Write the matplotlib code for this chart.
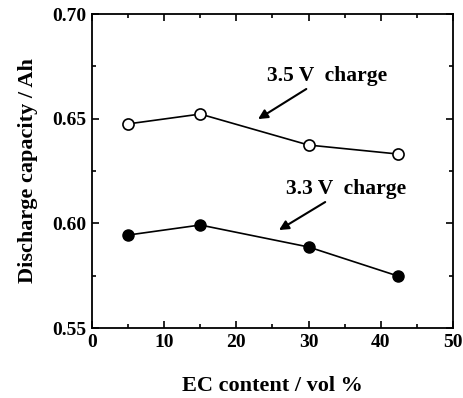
import matplotlib
matplotlib.use("Agg")
from matplotlib import pyplot as plt
from matplotlib.ticker import MultipleLocator

plt.rcParams['font.family'] = ['Liberation Serif', 'DejaVu Serif']
plt.rcParams['font.weight'] = 'bold'

ec = [5, 15, 30, 42.4]
cap_35 = [0.6475, 0.6522, 0.6374, 0.6331]
cap_33 = [0.5944, 0.5992, 0.5887, 0.5748]

fig = plt.figure(figsize=(4.64, 3.98), dpi=100)
ax = fig.add_axes([92 / 464, 70 / 398, 361 / 464, 314 / 398])

ax.plot(ec, cap_35, '-o', color='black', lw=1.2, ms=8, mfc='white', mec='black', mew=1.2)
ax.plot(ec, cap_33, '-o', color='black', lw=1.2, ms=8, mfc='black', mec='black')

ax.annotate("3.5 V  charge", xy=(23.0, 0.6498), xytext=(24.2, 0.6655),
            fontsize=15.5, fontweight='bold', ha='left', va='bottom',
            arrowprops=dict(arrowstyle='-|>', color='black', lw=1.5,
                            shrinkA=0, shrinkB=0, mutation_scale=14))
ax.annotate("3.3 V  charge", xy=(25.9, 0.5968), xytext=(26.9, 0.6115),
            fontsize=15.5, fontweight='bold', ha='left', va='bottom',
            arrowprops=dict(arrowstyle='-|>', color='black', lw=1.5,
                            shrinkA=0, shrinkB=0, mutation_scale=14))

ax.set_xlim(0, 50)
ax.set_ylim(0.55, 0.70)
ax.xaxis.set_major_locator(MultipleLocator(10))
ax.xaxis.set_minor_locator(MultipleLocator(5))
ax.yaxis.set_major_locator(MultipleLocator(0.05))
ax.yaxis.set_minor_locator(MultipleLocator(0.025))
ax.tick_params(which='both', direction='in', top=True, right=True, labelsize=14, width=1.2)
ax.tick_params(which='major', length=5, pad=4)
ax.tick_params(which='minor', length=3)
for s in ax.spines.values():
    s.set_linewidth(1.3)

ax.set_xlabel("EC content / vol %", fontsize=16, fontweight='bold', labelpad=18)
ax.set_ylabel("Discharge capacity / Ah", fontsize=16, fontweight='bold', labelpad=10)

plt.savefig("out.png", dpi=100)
